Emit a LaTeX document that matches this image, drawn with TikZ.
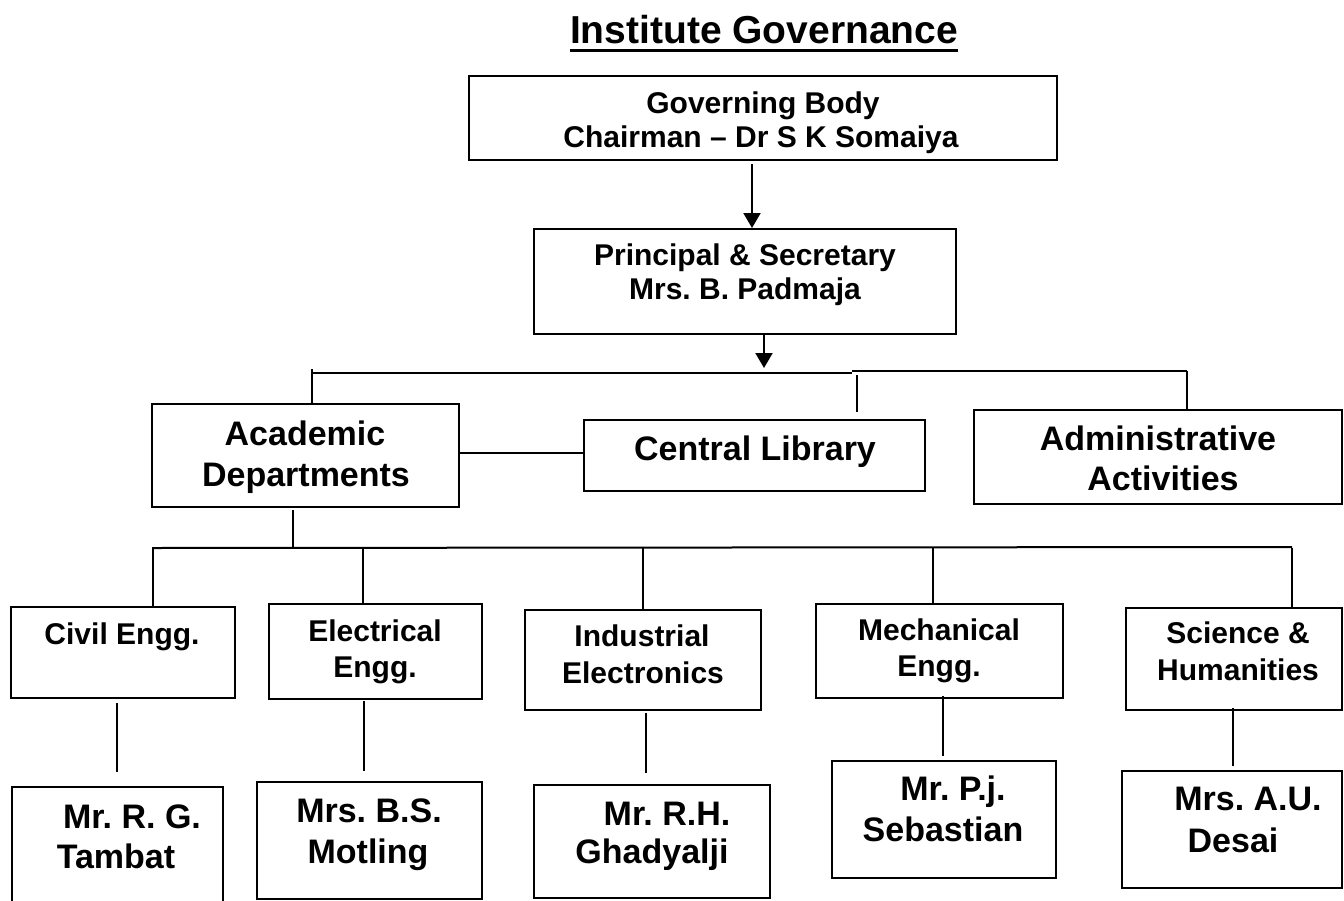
\documentclass[tikz,border=0pt]{standalone}
\usepackage{fontspec}
\setmainfont{Liberation Sans}
\usetikzlibrary{arrows.meta,fit,calc}
\frenchspacing
\newcommand\fTitle{\fontsize{19.5pt}{23pt}\selectfont\bfseries}
\newcommand\fGov{\fontsize{15pt}{18pt}\selectfont\bfseries}
\newcommand\fPrin{\fontsize{15pt}{18pt}\selectfont\bfseries}
\newcommand\fMid{\fontsize{17pt}{20pt}\selectfont\bfseries}
\newcommand\fDept{\fontsize{15pt}{18pt}\selectfont\bfseries}
\newcommand\fName{\fontsize{17pt}{20pt}\selectfont\bfseries}
\tikzset{
  box/.style={draw, line width=1pt, inner sep=0pt, rectangle},
  lbl/.style={anchor=base, inner sep=0pt},
  conn/.style={line width=1pt},
  arr/.style={line width=1pt, -{Triangle[width=8.5pt,length=7.5pt]}},
}
\newcommand\orgdrop[2]{\coordinate (x#1) at (#2,0); \draw[conn] (x#1 |- b2L) -- (x#1 |- #1.north);}
\newcommand\orglink[5]{\coordinate (l#1) at (#3,0); \draw[conn, shorten <=#4, shorten >=#5] (l#1 |- #1.south) -- (l#1 |- #2.north);}
\begin{document}
\begin{tikzpicture}[x=0.5pt,y=-0.5pt]
\useasboundingbox (0,0) rectangle (1344,900);
\fill[white] (0,0) rectangle (1344,900);

% title
\node[lbl, font=\fTitle] (title) at (764,43) {Institute Governance};
\draw[line width=1.5pt] ([yshift=-3.5pt]title.base west) -- ([yshift=-3.5pt]title.base east);

% boxes
\node[box, fit={(469,76) (1057,160)}] (gov) {};
\node[box, fit={(534,229) (956,334)}] (prin) {};
\node[box, fit={(152,404) (459,507)}] (acad) {};
\node[box, fit={(584,420) (925,491)}] (lib) {};
\node[box, fit={(974,410) (1342,504)}] (admin) {};
\node[box, fit={(11,607) (235,698)}] (civil) {};
\node[box, fit={(269,604) (482,699)}] (elec) {};
\node[box, fit={(525,610) (761,710)}] (ind) {};
\node[box, fit={(816,604) (1063,698)}] (mech) {};
\node[box, fit={(1126,608) (1342,710)}] (sci) {};
\node[box, fit={(12,787) (223,930)}] (tambat) {};
\node[box, fit={(257,782) (482,899)}] (motling) {};
\node[box, fit={(534,785) (770,898)}] (ghad) {};
\node[box, fit={(832,761) (1056,878)}] (seb) {};
\node[box, fit={(1122,771) (1342,888)}] (desai) {};

% texts
\node[lbl, font=\fGov] (tgov1) at (763,113) {Governing Body};
\node[lbl, font=\fGov] (tgov2) at (761,147) {Chairman – Dr S K Somaiya};
\node[lbl, font=\fPrin] (tprin1) at (745,265) {Principal \& Secretary};
\node[lbl, font=\fPrin] (tprin2) at (745,299) {Mrs. B. Padmaja};
\node[lbl, font=\fMid] (tacad1) at (305,445) {Academic};
\node[lbl, font=\fMid] (tacad2) at (306,486) {Departments};
\node[lbl, font=\fMid] (tlib) at (755,460) {Central Library};
\node[lbl, font=\fMid] (tadm1) at (1158,450) {Administrative};
\node[lbl, font=\fMid] (tadm2) at (1163,490) {Activities};
\node[lbl, font=\fDept] (tciv) at (122,644) {Civil Engg.};
\node[lbl, font=\fDept] (tele1) at (375,641) {Electrical};
\node[lbl, font=\fDept] (tele2) at (375,677) {Engg.};
\node[lbl, font=\fDept] (tind1) at (642,646) {Industrial};
\node[lbl, font=\fDept] (tind2) at (643,683) {Electronics};
\node[lbl, font=\fDept] (tmec1) at (939,640) {Mechanical};
\node[lbl, font=\fDept] (tmec2) at (939,676) {Engg.};
\node[lbl, font=\fDept] (tsci1) at (1238,643) {Science \&};
\node[lbl, font=\fDept] (tsci2) at (1238,680) {Humanities};
\node[lbl, font=\fName] (ttam1) at (132,828) {Mr. R. G.};
\node[lbl, font=\fName] (ttam2) at (116,868) {Tambat};
\node[lbl, font=\fName] (tmot1) at (369,822) {Mrs. B.S.};
\node[lbl, font=\fName] (tmot2) at (368,863) {Motling};
\node[lbl, font=\fName] (tgha1) at (667,825) {Mr. R.H.};
\node[lbl, font=\fName] (tgha2) at (652,863) {Ghadyalji};
\node[lbl, font=\fName] (tseb1) at (953,800) {Mr. P.j.};
\node[lbl, font=\fName] (tseb2) at (943,841) {Sebastian};
\node[lbl, font=\fName] (tdes1) at (1248,810) {Mrs. A.U.};
\node[lbl, font=\fName] (tdes2) at (1233,852) {Desai};

% arrows
\coordinate (a1s) at ([shift={(-11,3)}]gov.south);
\draw[arr] (a1s) -- (a1s |- prin.north);
\coordinate (a2s) at ([xshift=9.5pt]prin.south);
\coordinate (a2e) at (764,368);
\draw[arr] (a2s) -- (a2e);

% first bus
\coordinate (b1L) at (312,373);
\coordinate (b1M) at (852,371);
\coordinate (b1R) at (1187,371);
\draw[conn] (b1L) -- (b1L -| b1M);
\draw[conn] (b1M) -- (b1R);
\draw[conn] ([yshift=2pt]b1L) -- (b1L |- acad.north);
\coordinate (libT) at (857,375);
\coordinate (libE) at (857,412);
\draw[conn] (libT) -- (libE);
\draw[conn] (b1R) -- (b1R |- admin.north);
\coordinate (alY) at (0,453);
\draw[conn] (acad.east |- alY) -- (lib.west |- alY);

% second bus
\coordinate (b2L) at (152,548);
\coordinate (b2R) at (1292,547);
\coordinate (adS) at (293,510);
\draw[conn] (adS) -- (adS |- b2L);
\draw[conn] (b2L) -- (b2R);
\orgdrop{civil}{153}
\orgdrop{elec}{363}
\orgdrop{ind}{643}
\orgdrop{mech}{933}
\orgdrop{sci}{1292}

% links to heads
\orglink{civil}{tambat}{117}{2pt}{7pt}
\orglink{elec}{motling}{364}{0.5pt}{5pt}
\orglink{ind}{ghad}{646}{1pt}{5.5pt}
\orglink{mech}{seb}{943}{-1.5pt}{2pt}
\orglink{sci}{desai}{1233}{-1.5pt}{2pt}
\end{tikzpicture}
\end{document}
